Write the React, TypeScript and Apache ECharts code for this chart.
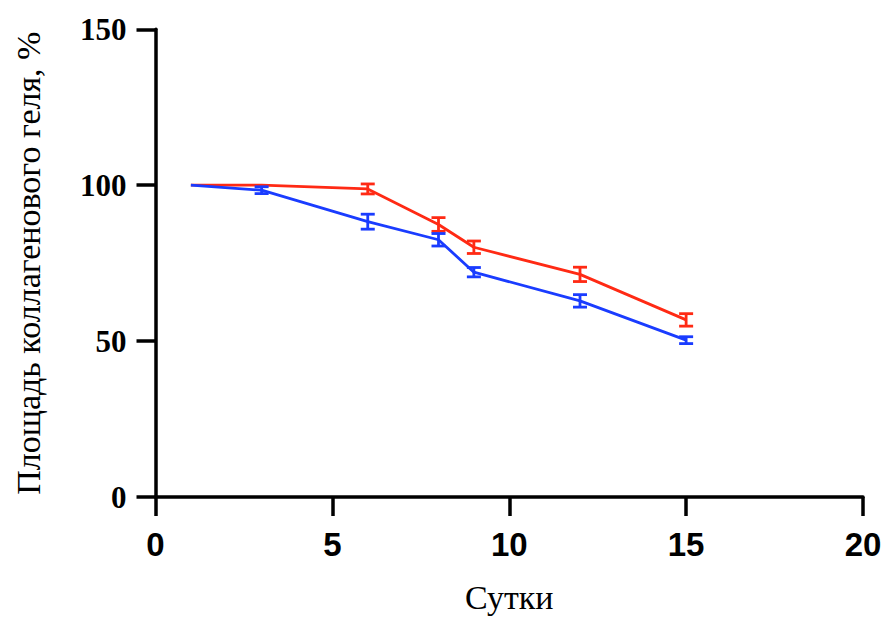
import React, { useEffect, useRef } from "react";
import * as echarts from "echarts";

const days = [1, 3, 6, 8, 9, 12, 15];
const redMean = [100, 100, 98.8, 87.4, 80.1, 71.4, 56.8];
const redErr = [0, 0, 1.6, 2.2, 2.0, 2.3, 2.0];
const blueMean = [100, 98.4, 88.3, 82.5, 72.1, 62.9, 50.3];
const blueErr = [0, 1.1, 2.4, 2.0, 1.5, 2.0, 1.1];
const xTicks = [0, 5, 10, 15, 20];
const yTicks = [0, 50, 100, 150];

const RED = "#ff2a14";
const BLUE = "#1a3cff";

function errorSeries(name: string, mean: number[], err: number[], color: string) {
  return {
    type: "custom",
    name: name + "-err",
    data: days.map((d, i) => [d, mean[i], err[i]]),
    z: 3,
    renderItem: (params: any, api: any) => {
      const x = api.value(0);
      const m = api.value(1);
      const e = api.value(2);
      if (!e) return { type: "group", children: [] };
      const top = api.coord([x, m + e]);
      const bot = api.coord([x, m - e]);
      const hw = 7;
      const style = { stroke: color, lineWidth: 2.8 };
      return {
        type: "group",
        children: [
          { type: "line", shape: { x1: top[0], y1: top[1], x2: bot[0], y2: bot[1] }, style },
          { type: "line", shape: { x1: top[0] - hw, y1: top[1], x2: top[0] + hw, y2: top[1] }, style },
          { type: "line", shape: { x1: bot[0] - hw, y1: bot[1], x2: bot[0] + hw, y2: bot[1] }, style },
        ],
      };
    },
  };
}

export default function App() {
  const ref = useRef<HTMLDivElement>(null);
  useEffect(() => {
    document.body.style.margin = "0";
    const chart = echarts.init(ref.current!, null, { renderer: "svg" });
    chart.setOption({
      animation: false,
      backgroundColor: "#ffffff",
      grid: { left: 155.5, right: 22, top: 29.3, bottom: 117.3 },
      xAxis: {
        type: "value",
        min: xTicks[0],
        max: xTicks[xTicks.length - 1],
        interval: 5,
        name: "Сутки",
        nameLocation: "middle",
        nameGap: 83,
        nameTextStyle: { fontFamily: "Liberation Serif", fontSize: 34, color: "#000" },
        axisLine: { show: true, onZero: false, lineStyle: { color: "#000", width: 3.5 } },
        axisTick: { show: true, length: 19, lineStyle: { color: "#000", width: 3.5 } },
        axisLabel: {
          margin: 31,
          fontFamily: "Liberation Sans",
          fontWeight: "bold",
          fontSize: 33,
          color: "#000",
        },
        splitLine: { show: false },
      },
      yAxis: {
        type: "value",
        min: yTicks[0],
        max: yTicks[yTicks.length - 1],
        interval: 50,
        name: "Площадь коллагенового геля, %",
        nameLocation: "middle",
        nameGap: 110,
        nameTextStyle: { fontFamily: "Liberation Serif", fontSize: 34, color: "#000" },
        axisLine: { show: true, onZero: false, lineStyle: { color: "#000", width: 3.5 } },
        axisTick: { show: true, length: 19, lineStyle: { color: "#000", width: 3.5 } },
        axisLabel: {
          margin: 29,
          fontFamily: "Liberation Serif",
          fontWeight: "bold",
          fontSize: 31,
          color: "#000",
        },
        splitLine: { show: false },
      },
      series: [
        {
          type: "line",
          name: "red",
          data: days.map((d, i) => [d, redMean[i]]),
          showSymbol: false,
          symbol: "none",
          lineStyle: { color: RED, width: 2.8 },
          z: 2,
        },
        errorSeries("red", redMean, redErr, RED),
        {
          type: "line",
          name: "blue",
          data: days.map((d, i) => [d, blueMean[i]]),
          showSymbol: false,
          symbol: "none",
          lineStyle: { color: BLUE, width: 2.8 },
          z: 4,
        },
        { ...errorSeries("blue", blueMean, blueErr, BLUE), z: 5 },
      ],
    });
    return () => chart.dispose();
  }, []);
  return <div ref={ref} style={{ position: "absolute", left: 0, top: 0, width: 885, height: 619 }} />;
}
